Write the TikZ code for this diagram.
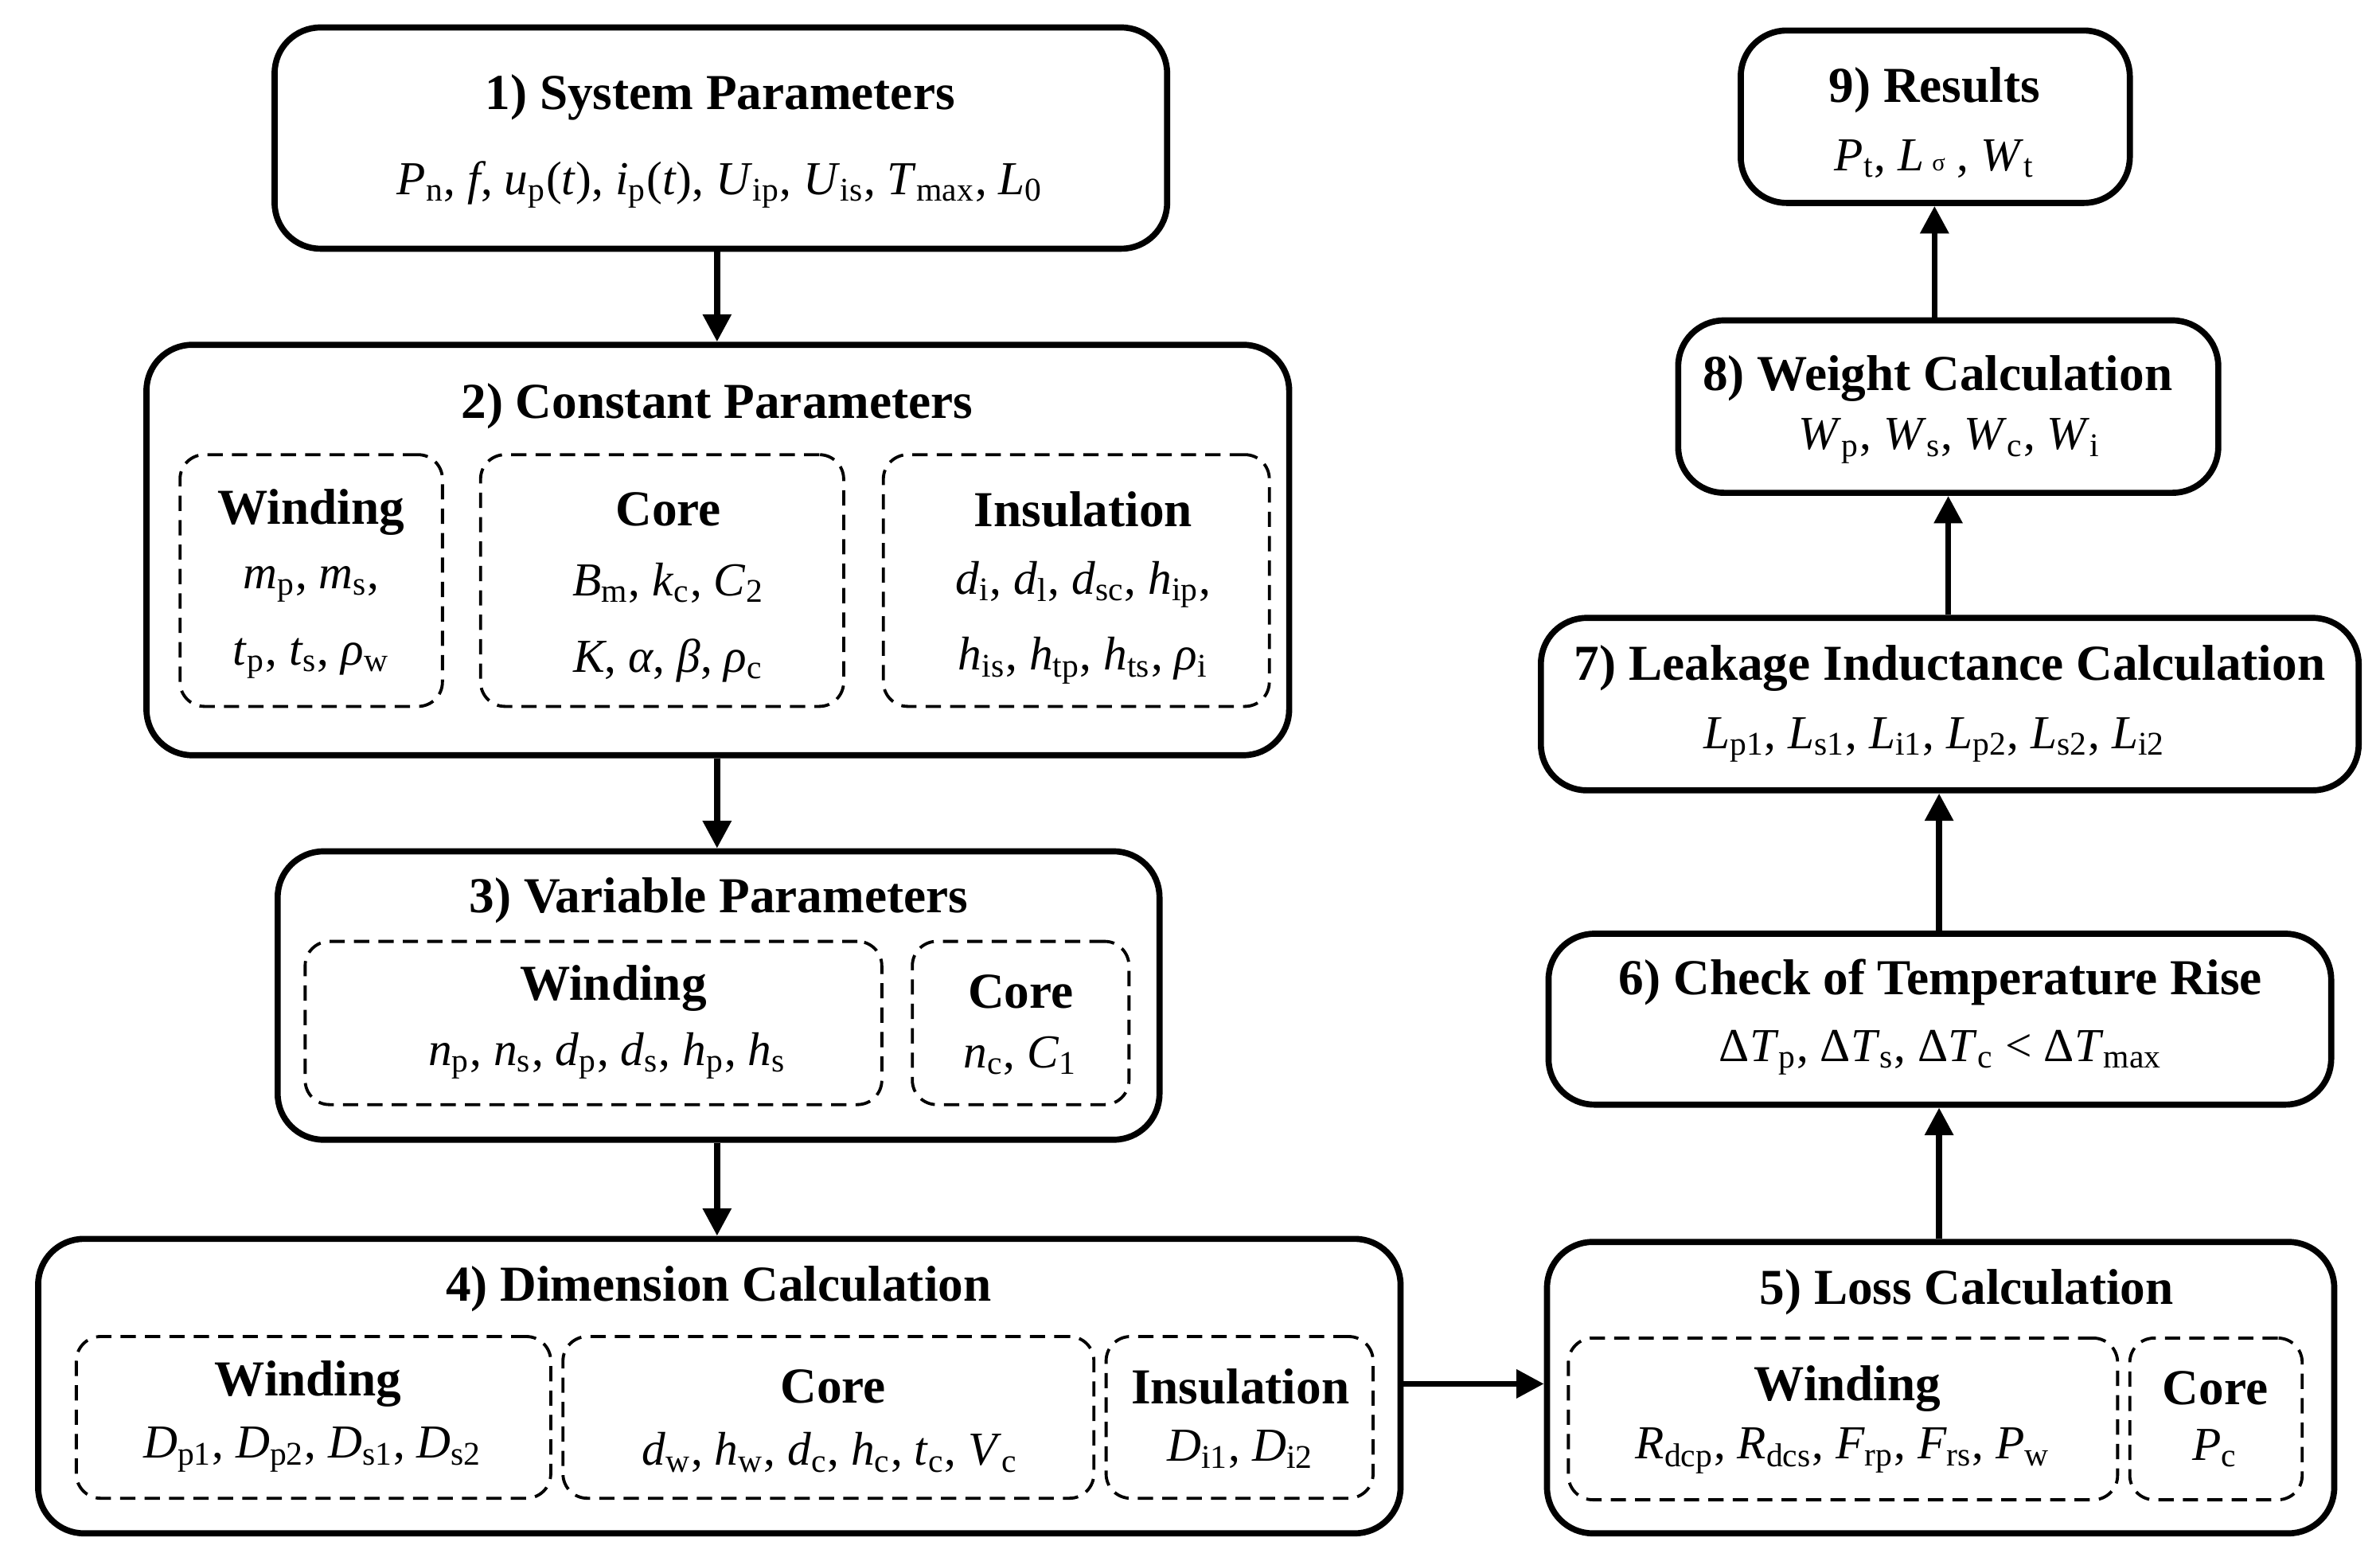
\documentclass[tikz,border=0pt]{standalone}
\usepackage{fontspec}
\setmainfont{Liberation Serif}
\usetikzlibrary{fit,arrows.meta}
\newcommand{\mv}[2]{\textit{#1}\textsubscript{#2}}
\begin{document}
\begin{tikzpicture}[x=0.5pt,y=-0.5pt,
 outer/.style={draw,line width=2pt,rounded corners=15pt,inner sep=0pt},
 dbox/.style={draw,line width=1pt,dash pattern=on 5pt off 3pt,rounded corners=8pt,inner sep=0pt},
 ttl/.style={font=\fontsize{16.5}{20}\selectfont\bfseries},
 txt/.style={font=\fontsize{15.5}{19}\selectfont,align=center},
 arr/.style={line width=2pt,-{Triangle[length=9pt,width=9pt]}}]
\useasboundingbox (0,0) rectangle (1560,1023);
% boxes
\node[outer,fit={(180,18)(765,163)}] (b1) {};
\node[outer,fit={(96,226)(845,495)}] (b2) {};
\node[outer,fit={(182,558)(760,747)}] (b3) {};
\node[outer,fit={(25,812)(918,1005)}] (b4) {};
\node[outer,fit={(1014,814)(1530,1005)}] (b5) {};
\node[outer,fit={(1015,612)(1528,724)}] (b6) {};
\node[outer,fit={(1010,405)(1546,518)}] (b7) {};
\node[outer,fit={(1100,210)(1454,323)}] (b8) {};
\node[outer,fit={(1141,20)(1396,133)}] (b9) {};
% dashed
\node[dbox,fit={(118,298)(290,463)}] (d2w) {};
\node[dbox,fit={(315,298)(553,463)}] (d2c) {};
\node[dbox,fit={(579,298)(832,463)}] (d2i) {};
\node[dbox,fit={(200,617)(578,724)}] (d3w) {};
\node[dbox,fit={(598,617)(740,724)}] (d3c) {};
\node[dbox,fit={(50,876)(361,982)}] (d4w) {};
\node[dbox,fit={(369,876)(717,982)}] (d4c) {};
\node[dbox,fit={(725,876)(900,982)}] (d4i) {};
\node[dbox,fit={(1028,877)(1388,983)}] (d5w) {};
\node[dbox,fit={(1396,877)(1509,983)}] (d5c) {};
% texts
\node[ttl] (t1) at (472,64) {1) System Parameters};
\node[txt] (v1) at (472,121) {\mv{P}{n}, \textit{f}, \mv{u}{p}(\textit{t}), \mv{i}{p}(\textit{t}), \mv{U}{ip}, \mv{U}{is}, \mv{T}{max}, \mv{L}{0}};
\node[ttl] (t2) at (470,266) {2) Constant Parameters};
\node[ttl] at (204,336) {Winding};
\node[txt] at (204,408) {\mv{m}{p}, \mv{m}{s},\\[6pt] \mv{t}{p}, \mv{t}{s}, \mv{ρ}{w}};
\node[ttl] at (438,334) {Core};
\node[txt] at (438,408) {\mv{B}{m}, \mv{k}{c}, \mv{C}{2}\\[6pt] \textit{K}, \textit{α}, \textit{β}, \mv{ρ}{c}};
\node[ttl] at (710,334) {Insulation};
\node[txt] at (710,408) {\mv{d}{i}, \mv{d}{l}, \mv{d}{sc}, \mv{h}{ip},\\[6pt] \mv{h}{is}, \mv{h}{tp}, \mv{h}{ts}, \mv{ρ}{i}};
\node[ttl] at (471,590) {3) Variable Parameters};
\node[ttl] at (402,648) {Winding};
\node[txt] at (398,692) {\mv{n}{p}, \mv{n}{s}, \mv{d}{p}, \mv{d}{s}, \mv{h}{p}, \mv{h}{s}};
\node[ttl] at (669,650) {Core};
\node[txt] at (669,692) {\mv{n}{c}, \mv{C}{1}};
\node[ttl] at (471,845) {4) Dimension Calculation};
\node[ttl] at (202,907) {Winding};
\node[txt] at (205,950) {\mv{D}{p1}, \mv{D}{p2}, \mv{D}{s1}, \mv{D}{s2}};
\node[ttl] at (546,909) {Core};
\node[txt] at (544,952) {\mv{d}{w}, \mv{h}{w}, \mv{d}{c}, \mv{h}{c}, \mv{t}{c}, \mv{V}{c}};
\node[ttl] at (813,909) {Insulation};
\node[txt] at (813,950) {\mv{D}{i1}, \mv{D}{i2}};
\node[ttl] at (1289,847) {5) Loss Calculation};
\node[ttl] at (1211,910) {Winding};
\node[txt] at (1208,951) {\mv{R}{dcp}, \mv{R}{dcs}, \mv{F}{rp}, \mv{F}{rs}, \mv{P}{w}};
\node[ttl] at (1452,910) {Core};
\node[txt] at (1452,949) {\mv{P}{c}};
\node[ttl] at (1272,644) {6) Check of Temperature Rise};
\node[txt] at (1272,690) {Δ\mv{T}{p}, Δ\mv{T}{s}, Δ\mv{T}{c} < Δ\mv{T}{max}};
\node[ttl] at (1278,438) {7) Leakage Inductance Calculation};
\node[txt] at (1268,485) {\mv{L}{p1}, \mv{L}{s1}, \mv{L}{i1}, \mv{L}{p2}, \mv{L}{s2}, \mv{L}{i2}};
\node[ttl] at (1270,248) {8) Weight Calculation};
\node[txt] at (1278,289) {\mv{W}{p}, \mv{W}{s}, \mv{W}{c}, \mv{W}{i}};
\node[ttl] at (1268,59) {9) Results};
\node[txt] at (1268,104) {\mv{P}{t}, \textit{L}\,{\footnotesize σ} , \mv{W}{t}};
% arrows
\draw[arr] (b1.south -| 470,0) -- (b2.north -| 470,0);
\draw[arr] (b2.south -| 470,0) -- (b3.north -| 470,0);
\draw[arr] (b3.south -| 470,0) -- (b4.north -| 470,0);
\draw[arr] (b4.east |- 0,907) -- (b5.west |- 0,907);
\draw[arr] (b5.north -| 1271,0) -- (b6.south -| 1271,0);
\draw[arr] (b6.north -| 1271,0) -- (b7.south -| 1271,0);
\draw[arr] (b7.north -| 1277,0) -- (b8.south -| 1277,0);
\draw[arr] (b8.north -| 1268,0) -- (b9.south -| 1268,0);
\end{tikzpicture}
\end{document}
